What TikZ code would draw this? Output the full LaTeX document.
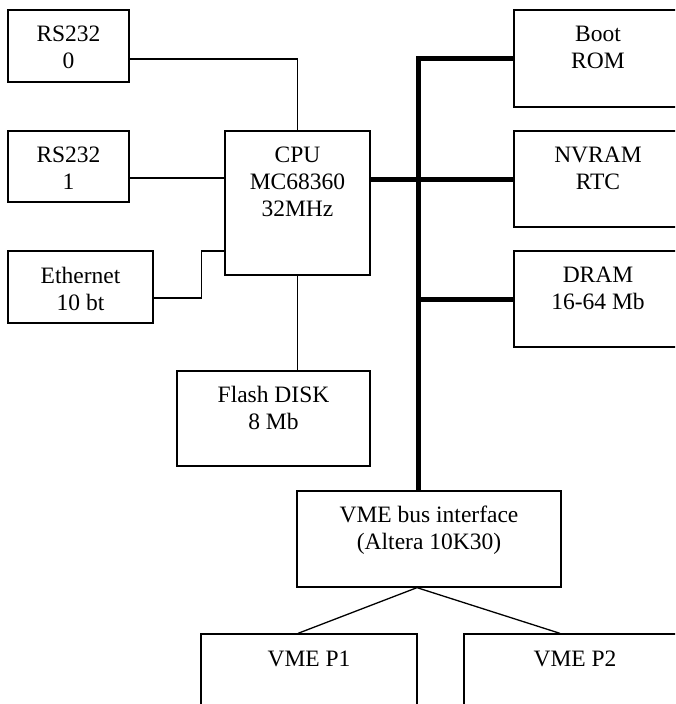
\documentclass[tikz,border=0pt]{standalone}
\usepackage{fontspec}
\setmainfont{Liberation Serif}
\begin{document}
\begin{tikzpicture}[x=1pt,y=-1pt,
  box/.style={draw, line width=1.3pt, rectangle, inner sep=0pt},
  txt/.style={anchor=north, inner sep=0pt, align=center, font=\fontsize{23.5}{27}\selectfont},
  wire/.style={line width=1.3pt},
  bus/.style={line width=5pt}]
\useasboundingbox (0,0) rectangle (675,704);
\clip (0,0) rectangle (675,704);
% boxes
\node[box, minimum width=121pt, minimum height=72pt] (rs0) at (68.5,46) {};
\node[box, minimum width=121pt, minimum height=71pt] (rs1) at (68.5,166.5) {};
\node[box, minimum width=145pt, minimum height=72pt] (eth) at (80.5,287) {};
\node[box, minimum width=145pt, minimum height=144pt] (cpu) at (297.5,203) {};
\node[box, minimum width=193pt, minimum height=95pt] (flash) at (273.5,418.5) {};
\node[box, minimum width=168pt, minimum height=97pt] (boot) at (598,58.5) {};
\node[box, minimum width=168pt, minimum height=96pt] (nvram) at (598,179) {};
\node[box, minimum width=168pt, minimum height=96pt] (dram) at (598,299) {};
\node[box, minimum width=264pt, minimum height=96pt] (vme) at (429,539) {};
\node[box, minimum width=216pt, minimum height=100pt] (p1) at (309,684) {};
\node[box, minimum width=222pt, minimum height=100pt] (p2) at (575,684) {};
% texts
\node[txt] (rs0t) at ([yshift=-16.8pt]rs0.north) {RS232\\0};
\node[txt] (rs1t) at ([yshift=-16.8pt]rs1.north) {RS232\\1};
\node[txt] (etht) at ([yshift=-16.8pt]eth.north) {Ethernet\\10 bt};
\node[txt] (cput) at ([yshift=-16.3pt]cpu.north) {CPU\\MC68360\\32MHz};
\node[txt] (flasht) at ([yshift=-15.3pt]flash.north) {Flash DISK\\8 Mb};
\node[txt] (boott) at ([yshift=-16.8pt]boot.north) {Boot\\ROM};
\node[txt] (nvramt) at ([yshift=-16.8pt]nvram.north) {NVRAM\\RTC};
\node[txt] (dramt) at ([yshift=-16.8pt]dram.north) {DRAM\\16-64 Mb};
\node[txt] (vmet) at ([yshift=-15.3pt]vme.north) {VME bus interface\\(Altera 10K30)};
\node[txt] (p1t) at ([yshift=-17.5pt]p1.north) {VME P1};
\node[txt] (p2t) at ([yshift=-17.5pt]p2.north) {VME P2};
% thin connectors
\draw[wire] ([yshift=-13pt]rs0.east) -| (cpu.north);
\coordinate (r1) at ([yshift=-11.5pt]rs1.east);
\draw[wire] (r1) -- (r1 -| cpu.west);
\coordinate (e1) at ([yshift=-11pt]eth.east);
\coordinate (c1) at ([yshift=-48pt]cpu.west);
\draw[wire] (e1) -- ++(48,0) |- (c1);
\draw[wire] (cpu.south) -- (cpu.south |- flash.north);
% bus
\coordinate (bt) at (418,0 |- boot.west);
\draw[bus] (boot.west) -- (bt) -- (bt |- vme.north);
\draw[bus] (cpu.east |- nvram.west) -- (nvram.west);
\draw[bus] (bt |- dram.west) -- (dram.west);
% VME connectors
\coordinate (vb) at ([xshift=-12pt]vme.south);
\draw[wire] ([xshift=-11pt]p1.north) -- (vb) -- ([xshift=-15pt]p2.north);
\end{tikzpicture}
\end{document}
